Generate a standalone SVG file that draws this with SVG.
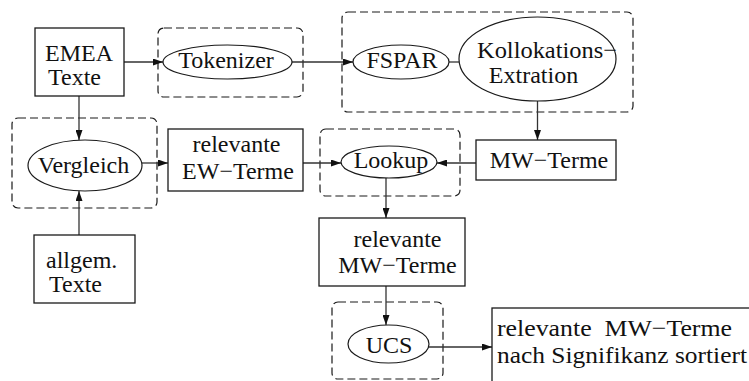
<svg xmlns="http://www.w3.org/2000/svg" width="749" height="381" viewBox="0 0 749 381">
  <style>
    .box { fill: #fff; stroke: #1a1a1a; stroke-width: 1.3; }
    .oval { fill: #fff; stroke: #1a1a1a; stroke-width: 1.2; }
    .grp { fill: none; stroke: #1a1a1a; stroke-width: 1.2; stroke-dasharray: 8 4; }
    .edge { fill: none; stroke: #333; stroke-width: 1.3; }
    .lbl { font-family: 'Liberation Serif', 'DejaVu Serif', serif; font-size: 24px; fill: #111; }
    .c { text-anchor: middle; }
  </style>
  <defs>
    <marker id="arrow" markerUnits="userSpaceOnUse" markerWidth="10" markerHeight="7" refX="10" refY="3.5" orient="auto">
      <path d="M0,0 L10,3.5 L0,7 z" fill="#111"/>
    </marker>
  </defs>

  <!-- dashed grouping frames -->
  <g id="frames">
    <rect class="grp" x="158" y="28" width="145" height="69" rx="6"/>
    <rect class="grp" x="342" y="12" width="291" height="100" rx="6"/>
    <rect class="grp" x="12" y="118" width="145" height="90" rx="6"/>
    <rect class="grp" x="320" y="129" width="140" height="67" rx="6"/>
    <rect class="grp" x="332" y="302" width="111" height="77" rx="6"/>
  </g>

  <g id="connectors">
    <line class="edge" x1="124" y1="62" x2="163" y2="62" marker-end="url(#arrow)"/>
    <line class="edge" x1="292" y1="62" x2="353" y2="62" marker-end="url(#arrow)"/>
    <line class="edge" x1="449" y1="62" x2="459" y2="62"/>
    <line class="edge" x1="537.5" y1="101" x2="537.5" y2="140" marker-end="url(#arrow)"/>
    <line class="edge" x1="476" y1="163" x2="437" y2="163" marker-end="url(#arrow)"/>
    <line class="edge" x1="303" y1="163" x2="341" y2="163" marker-end="url(#arrow)"/>
    <line class="edge" x1="79" y1="96" x2="79" y2="140" marker-end="url(#arrow)"/>
    <line class="edge" x1="142" y1="163" x2="168" y2="163" marker-end="url(#arrow)"/>
    <line class="edge" x1="79" y1="235" x2="79" y2="191" marker-end="url(#arrow)"/>
    <line class="edge" x1="386" y1="178" x2="386" y2="218" marker-end="url(#arrow)"/>
    <line class="edge" x1="386" y1="286" x2="386" y2="325" marker-end="url(#arrow)"/>
    <line class="edge" x1="429" y1="347" x2="492" y2="347" marker-end="url(#arrow)"/>
  </g>

  <g id="emea">
    <rect class="box" x="35" y="28" width="89" height="68"/>
    <text class="lbl" x="45" y="61">EMEA</text>
    <text class="lbl" x="48" y="85">Texte</text>
  </g>

  <g id="tokenizer">
    <ellipse class="oval" cx="227.5" cy="62" rx="64.5" ry="17"/>
    <text class="lbl c" x="226" y="68">Tokenizer</text>
  </g>

  <g id="fspar">
    <ellipse class="oval" cx="401" cy="62" rx="48" ry="17"/>
    <text class="lbl c" x="402" y="68">FSPAR</text>
  </g>

  <g id="kollokation">
    <ellipse class="oval" cx="537.5" cy="59" rx="78.5" ry="42"/>
    <text class="lbl" x="477" y="57.5" textLength="140" lengthAdjust="spacingAndGlyphs">Kollokations−</text>
    <text class="lbl c" x="533.5" y="83">Extration</text>
  </g>

  <g id="mw-terme">
    <rect class="box" x="476" y="140" width="140" height="40"/>
    <text class="lbl c" x="549" y="168">MW−Terme</text>
  </g>

  <g id="lookup">
    <ellipse class="oval" cx="389" cy="162" rx="48" ry="16"/>
    <text class="lbl c" x="391" y="168">Lookup</text>
  </g>

  <g id="ew-terme">
    <rect class="box" x="168" y="129" width="135" height="62"/>
    <text class="lbl c" x="236.5" y="152">relevante</text>
    <text class="lbl c" x="238" y="179">EW−Terme</text>
  </g>

  <g id="vergleich">
    <ellipse class="oval" cx="85" cy="165.5" rx="57" ry="25.5"/>
    <text class="lbl c" x="83.5" y="173">Vergleich</text>
  </g>

  <g id="allgem">
    <rect class="box" x="34" y="235" width="101" height="68"/>
    <text class="lbl" x="46" y="268">allgem.</text>
    <text class="lbl" x="49" y="292">Texte</text>
  </g>

  <g id="rel-mw-terme">
    <rect class="box" x="319" y="218" width="146" height="68"/>
    <text class="lbl c" x="397.5" y="247">relevante</text>
    <text class="lbl c" x="397.5" y="273">MW−Terme</text>
  </g>

  <g id="ucs">
    <ellipse class="oval" cx="388.5" cy="344" rx="40.5" ry="19"/>
    <text class="lbl c" x="389" y="353">UCS</text>
  </g>

  <g id="result">
    <rect class="box" x="492" y="308" width="300" height="100"/>
    <text class="lbl" x="497" y="336" xml:space="preserve" textLength="235" lengthAdjust="spacingAndGlyphs">relevante  MW−Terme</text>
    <text class="lbl" x="497" y="363" textLength="250" lengthAdjust="spacingAndGlyphs">nach Signifikanz sortiert</text>
  </g>
</svg>
